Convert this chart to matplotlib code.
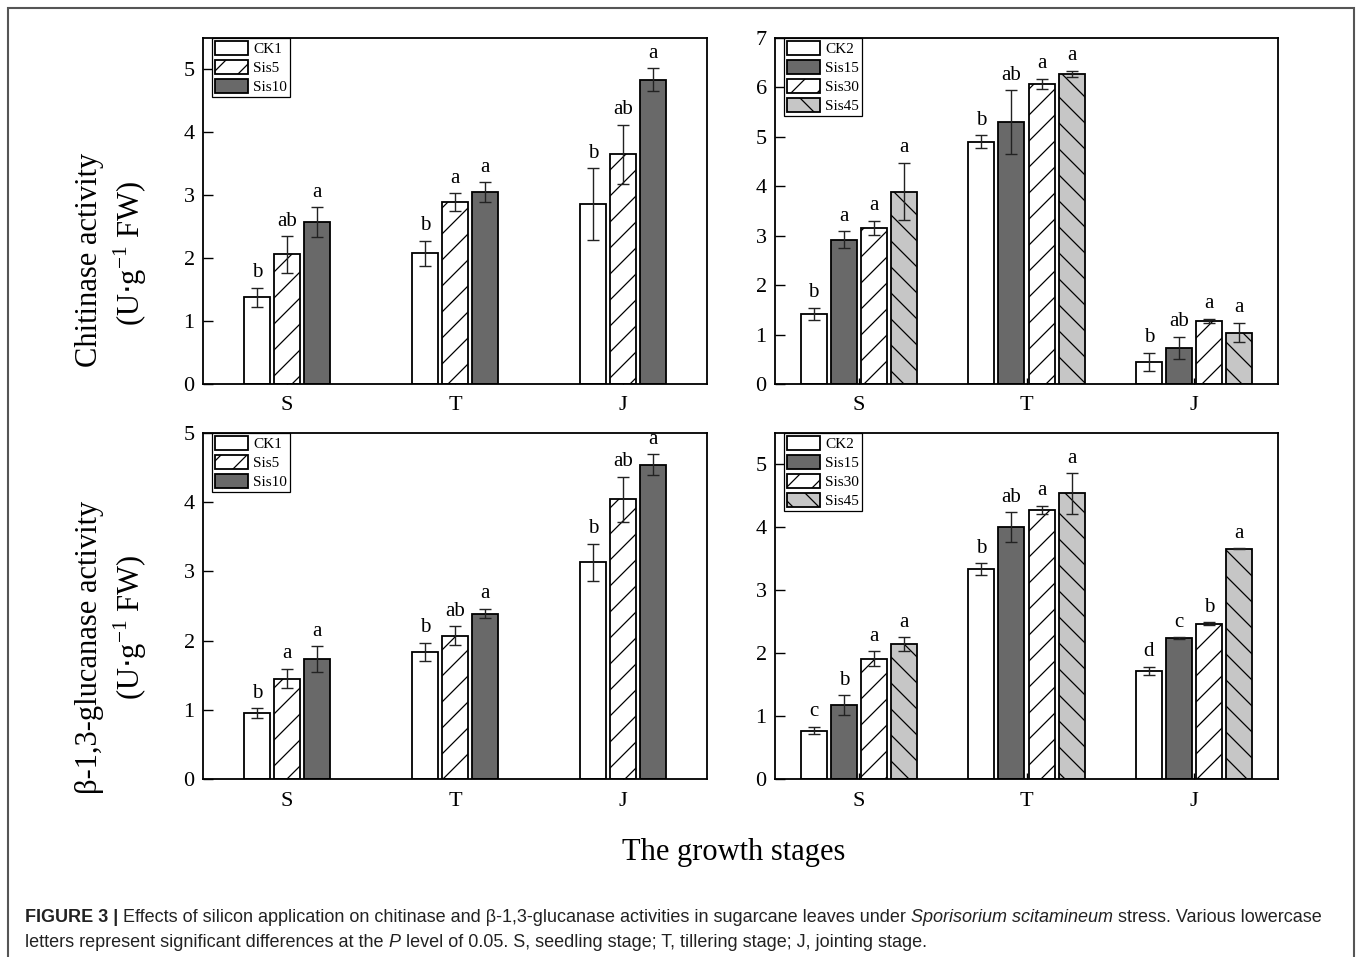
import matplotlib
matplotlib.use("Agg")
import matplotlib.pyplot as plt
import numpy as np
from matplotlib.patches import Rectangle

DPI = 78
K = 100 / DPI  # scale so that sizes match a 100-dpi layout

plt.rcParams['font.family'] = ['Liberation Serif', 'DejaVu Serif']
plt.rcParams['hatch.linewidth'] = 0.9 * K

# ---------------- data ----------------
stages = ["S", "T", "J"]

left_series = ["CK1", "Sis5", "Sis10"]
right_series = ["CK2", "Sis15", "Sis30", "Sis45"]

# Chitinase, left panel (CK1, Sis5, Sis10) per stage
chi_left_mean = [[1.38, 2.08, 2.86], [2.06, 2.89, 3.65], [2.57, 3.05, 4.84]]
chi_left_err = [[0.15, 0.20, 0.57], [0.29, 0.14, 0.47], [0.24, 0.16, 0.18]]
chi_left_let = [["b", "b", "b"], ["ab", "a", "ab"], ["a", "a", "a"]]

# Chitinase, right panel (CK2, Sis15, Sis30, Sis45)
chi_right_mean = [[1.42, 4.90, 0.45], [2.92, 5.30, 0.73], [3.16, 6.07, 1.28], [3.89, 6.28, 1.04]]
chi_right_err = [[0.12, 0.13, 0.18], [0.17, 0.64, 0.22], [0.14, 0.11, 0.04], [0.58, 0.06, 0.20]]
chi_right_let = [["b", "b", "b"], ["a", "ab", "ab"], ["a", "a", "a"], ["a", "a", "a"]]

# beta-1,3-glucanase, left panel
glu_left_mean = [[0.95, 1.84, 3.13], [1.45, 2.07, 4.04], [1.73, 2.39, 4.54]]
glu_left_err = [[0.07, 0.13, 0.27], [0.14, 0.14, 0.33], [0.19, 0.07, 0.15]]
glu_left_let = [["b", "b", "b"], ["a", "ab", "ab"], ["a", "a", "a"]]

# beta-1,3-glucanase, right panel
glu_right_mean = [[0.77, 3.34, 1.72], [1.17, 4.00, 2.24], [1.91, 4.28, 2.47], [2.14, 4.54, 3.66]]
glu_right_err = [[0.06, 0.09, 0.06], [0.16, 0.24, 0.01], [0.12, 0.06, 0.02], [0.11, 0.32, 0.01]]
glu_right_let = [["c", "b", "d"], ["b", "ab", "c"], ["a", "a", "b"], ["a", "a", "a"]]

left_styles = [dict(color="white", hatch=None),
               dict(color="white", hatch="/"),
               dict(color="#696969", hatch=None)]
right_styles = [dict(color="white", hatch=None),
                dict(color="#696969", hatch=None),
                dict(color="white", hatch="/"),
                dict(color="#c6c6c6", hatch="\\")]

W, H = 1357, 957
fig = plt.figure(figsize=(W / DPI, H / DPI), dpi=DPI)


def add_ax(x0, y0, x1, y1):
    return fig.add_axes([x0 / W, 1 - y1 / H, (x1 - x0) / W, (y1 - y0) / H])


def panel(ax, means, errs, lets, names, styles, ylim, yticks):
    n = len(names)
    x = np.arange(1, len(stages) + 1)
    step = 0.18 if n == 4 else 0.176
    width = 0.155
    for i in range(n):
        off = (i - (n - 1) / 2) * step
        st = styles[i]
        ax.bar(x + off, means[i], width, color=st["color"], hatch=st["hatch"],
               edgecolor="black", linewidth=1.3 * K, label=names[i], zorder=2)
        ax.errorbar(x + off, means[i], yerr=errs[i], fmt="none", ecolor="#222222",
                    elinewidth=1.0 * K, capsize=4.5 * K, capthick=1.0 * K, zorder=3)
        for j in range(len(stages)):
            ax.annotate(lets[i][j], (x[j] + off, means[i][j] + errs[i][j]),
                        xytext=(0, 4 * K), textcoords="offset points",
                        ha="center", va="bottom", fontsize=15 * K)
    ax.set_xlim(0.5, 3.5)
    ax.set_ylim(*ylim)
    ax.set_yticks(yticks)
    ax.set_xticks(x)
    ax.set_xticklabels(stages)
    ax.tick_params(direction="in", labelsize=16 * K, width=1.0 * K)
    ax.tick_params(axis="y", length=7 * K, pad=6 * K)
    ax.tick_params(axis="x", length=4 * K, pad=9 * K)
    for sp in ax.spines.values():
        sp.set_linewidth(1.3 * K)
    leg = ax.legend(loc="upper left", bbox_to_anchor=(9 / 504, 1.0), borderaxespad=0,
                    fontsize=11 * K, frameon=True, fancybox=False, edgecolor="black",
                    framealpha=1, handlelength=2.15, handleheight=1.05,
                    handletextpad=0.35, labelspacing=0.24, borderpad=0.18)
    leg.get_frame().set_linewidth(0.9 * K)


ax1 = add_ax(203, 38, 707, 384)
panel(ax1, chi_left_mean, chi_left_err, chi_left_let, left_series, left_styles,
      (0, 5.5), [0, 1, 2, 3, 4, 5])
ax2 = add_ax(775, 38, 1278, 384)
panel(ax2, chi_right_mean, chi_right_err, chi_right_let, right_series, right_styles,
      (0, 7), [0, 1, 2, 3, 4, 5, 6, 7])
ax3 = add_ax(203, 433, 707, 779)
panel(ax3, glu_left_mean, glu_left_err, glu_left_let, left_series, left_styles,
      (0, 5), [0, 1, 2, 3, 4, 5])
ax4 = add_ax(775, 433, 1278, 779)
panel(ax4, glu_right_mean, glu_right_err, glu_right_let, right_series, right_styles,
      (0, 5.5), [0, 1, 2, 3, 4, 5])

# y labels
fs_lab = 22 * K
fig.text(90 / W, 1 - 260 / H, "Chitinase activity", rotation=90, ha="center", va="center", fontsize=fs_lab)
fig.text(130 / W, 1 - 253 / H, r"(U$\cdot$g$^{\mathregular{-1}}$ FW)", rotation=90, ha="center",
         va="center", fontsize=fs_lab)
fig.text(90 / W, 1 - 647 / H, "β-1,3-glucanase activity", rotation=90, ha="center", va="center", fontsize=fs_lab)
fig.text(130 / W, 1 - 627 / H, r"(U$\cdot$g$^{\mathregular{-1}}$ FW)", rotation=90, ha="center",
         va="center", fontsize=fs_lab)
fig.text(734 / W, 1 - 852 / H, "The growth stages", ha="center", va="center", fontsize=fs_lab)

# outer border
fig.patches.append(Rectangle((8 / W, -0.05), (1354 - 8) / W, 1 - 8 / H + 0.05,
                             transform=fig.transFigure, fill=False,
                             edgecolor="#555555", linewidth=1.5 * K))

# caption with mixed styles
renderer = fig.canvas.get_renderer()
cap_font = ['Liberation Sans', 'DejaVu Sans']
cap_size = 12.95 * K


def width_px(s, **kw):
    t = fig.text(0, 0, s, fontsize=cap_size, family=cap_font, **kw)
    w = t.get_window_extent(renderer).width
    t.remove()
    return w


space_w = width_px("a a") - width_px("aa")


def draw_runs(x_px, y_px, parts):
    x = x_px
    for s, kw in parts:
        lead = len(s) - len(s.lstrip(" "))
        trail = len(s) - len(s.rstrip(" "))
        x += lead * space_w
        core = s.strip(" ")
        t = fig.text(x / W, 1 - y_px / H, core, fontsize=cap_size, family=cap_font,
                     va="center", ha="left", color="#222222", **kw)
        x += t.get_window_extent(renderer).width + trail * space_w


draw_runs(25, 917, [("FIGURE 3 |", dict(fontweight="bold")),
                    (" Effects of silicon application on chitinase and β-1,3-glucanase activities in sugarcane leaves under ", {}),
                    ("Sporisorium scitamineum", dict(fontstyle="italic")),
                    (" stress. Various lowercase", {})])
draw_runs(25, 942, [("letters represent significant differences at the ", {}),
                    ("P", dict(fontstyle="italic")),
                    (" level of 0.05. S, seedling stage; T, tillering stage; J, jointing stage.", {})])

fig.savefig("out.png", dpi=DPI)
